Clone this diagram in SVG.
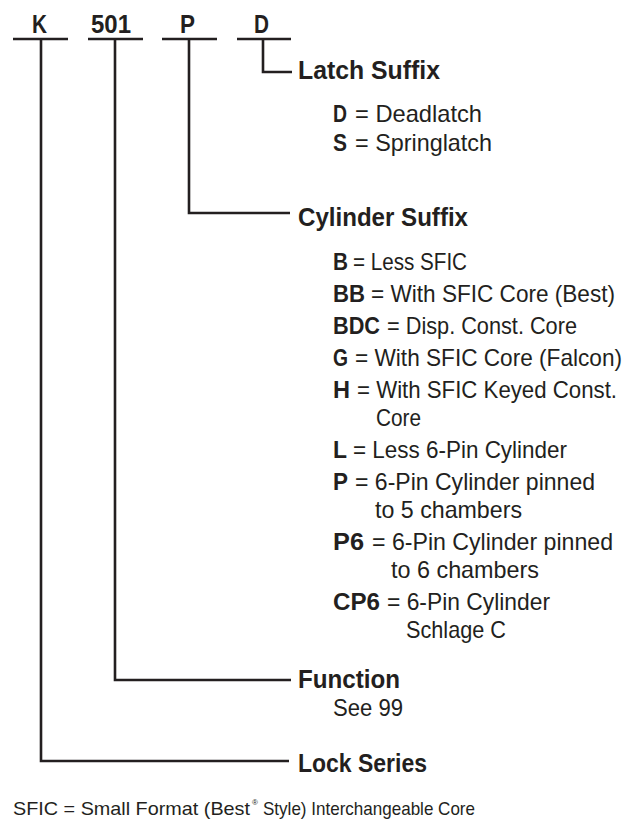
<svg xmlns="http://www.w3.org/2000/svg" width="637" height="824" viewBox="0 0 637 824">
<style>
text{font-family:"Liberation Sans Narrow","Liberation Sans",Arial,sans-serif;fill:#231f20}
.code{font-size:25px;font-weight:bold}
.head{font-size:26px;font-weight:bold}
.b{font-size:24px;font-weight:bold}
.r{font-size:24px;font-weight:normal}
.foot{font-size:18.4px}
.ln{stroke:#231f20;stroke-width:2.6;fill:none;stroke-linecap:butt;stroke-linejoin:miter}
</style>
<rect width="637" height="824" fill="#ffffff"/>
<g id="connectors">
<line class="ln" x1="13" y1="39" x2="68" y2="39"/>
<line class="ln" x1="88" y1="39" x2="143" y2="39"/>
<line class="ln" x1="162" y1="39" x2="217" y2="39"/>
<line class="ln" x1="237" y1="39" x2="291" y2="39"/>
<polyline class="ln" points="263,39 263,72 292,72"/>
<polyline class="ln" points="189,39 189,213 290,213"/>
<polyline class="ln" points="115,39 115,680 291,680"/>
<polyline class="ln" points="41,39 41,761 289,761"/>
</g>
<g id="node-K"><text class="code" x="32" y="33" textLength="15" lengthAdjust="spacingAndGlyphs">K</text></g>
<g id="node-501"><text class="code" x="91" y="33" textLength="40" lengthAdjust="spacingAndGlyphs">501</text></g>
<g id="node-P"><text class="code" x="180" y="33" textLength="15" lengthAdjust="spacingAndGlyphs">P</text></g>
<g id="node-D"><text class="code" x="254" y="33" textLength="15" lengthAdjust="spacingAndGlyphs">D</text></g>
<g id="latch-suffix">
<text class="head" x="298" y="79" textLength="142" lengthAdjust="spacingAndGlyphs">Latch Suffix</text>
<text y="122"><tspan class="b" x="333" textLength="14" lengthAdjust="spacingAndGlyphs">D</tspan><tspan class="r" x="355" textLength="127" lengthAdjust="spacingAndGlyphs">= Deadlatch</tspan></text>
<text y="151"><tspan class="b" x="333" textLength="14" lengthAdjust="spacingAndGlyphs">S</tspan><tspan class="r" x="355" textLength="137" lengthAdjust="spacingAndGlyphs">= Springlatch</tspan></text>
</g>
<g id="cylinder-suffix">
<text class="head" x="298" y="226" textLength="170" lengthAdjust="spacingAndGlyphs">Cylinder Suffix</text>
<text y="270"><tspan class="b" x="333" textLength="15" lengthAdjust="spacingAndGlyphs">B</tspan><tspan class="r" x="353" textLength="114" lengthAdjust="spacingAndGlyphs">= Less SFIC</tspan></text>
<text y="302"><tspan class="b" x="333" textLength="32" lengthAdjust="spacingAndGlyphs">BB</tspan><tspan class="r" x="371" textLength="244" lengthAdjust="spacingAndGlyphs">= With SFIC Core (Best)</tspan></text>
<text y="334"><tspan class="b" x="333" textLength="47" lengthAdjust="spacingAndGlyphs">BDC</tspan><tspan class="r" x="387" textLength="190" lengthAdjust="spacingAndGlyphs">= Disp. Const. Core</tspan></text>
<text y="366"><tspan class="b" x="333" textLength="15" lengthAdjust="spacingAndGlyphs">G</tspan><tspan class="r" x="355" textLength="267" lengthAdjust="spacingAndGlyphs">= With SFIC Core (Falcon)</tspan></text>
<text y="398"><tspan class="b" x="333" textLength="17" lengthAdjust="spacingAndGlyphs">H</tspan><tspan class="r" x="357" textLength="260" lengthAdjust="spacingAndGlyphs">= With SFIC Keyed Const.</tspan></text>
<text class="r" x="376" y="426" textLength="45" lengthAdjust="spacingAndGlyphs">Core</text>
<text y="458"><tspan class="b" x="333" textLength="14" lengthAdjust="spacingAndGlyphs">L</tspan><tspan class="r" x="353" textLength="214" lengthAdjust="spacingAndGlyphs">= Less 6-Pin Cylinder</tspan></text>
<text y="490"><tspan class="b" x="333" textLength="15" lengthAdjust="spacingAndGlyphs">P</tspan><tspan class="r" x="355" textLength="240" lengthAdjust="spacingAndGlyphs">= 6-Pin Cylinder pinned</tspan></text>
<text class="r" x="375" y="518" textLength="147" lengthAdjust="spacingAndGlyphs">to 5 chambers</text>
<text y="550"><tspan class="b" x="333" textLength="31" lengthAdjust="spacingAndGlyphs">P6</tspan><tspan class="r" x="372" textLength="241" lengthAdjust="spacingAndGlyphs">= 6-Pin Cylinder pinned</tspan></text>
<text class="r" x="391" y="578" textLength="148" lengthAdjust="spacingAndGlyphs">to 6 chambers</text>
<text y="610"><tspan class="b" x="333" textLength="47" lengthAdjust="spacingAndGlyphs">CP6</tspan><tspan class="r" x="387" textLength="163" lengthAdjust="spacingAndGlyphs">= 6-Pin Cylinder</tspan></text>
<text class="r" x="406" y="638" textLength="100" lengthAdjust="spacingAndGlyphs">Schlage C</text>
</g>
<g id="function">
<text class="head" x="298" y="688" textLength="102" lengthAdjust="spacingAndGlyphs">Function</text>
<text class="r" x="333" y="716" textLength="70" lengthAdjust="spacingAndGlyphs">See 99</text>
</g>
<g id="lock-series">
<text class="head" x="298" y="772" textLength="129" lengthAdjust="spacingAndGlyphs">Lock Series</text>
</g>
<g id="footnote">
<text class="foot" x="13" y="815" textLength="237" lengthAdjust="spacingAndGlyphs">SFIC = Small Format (Best</text>
<text x="252" y="805" font-size="8">®</text>
<text class="foot" x="263" y="815" textLength="212" lengthAdjust="spacingAndGlyphs">Style) Interchangeable Core</text>
</g>
</svg>
